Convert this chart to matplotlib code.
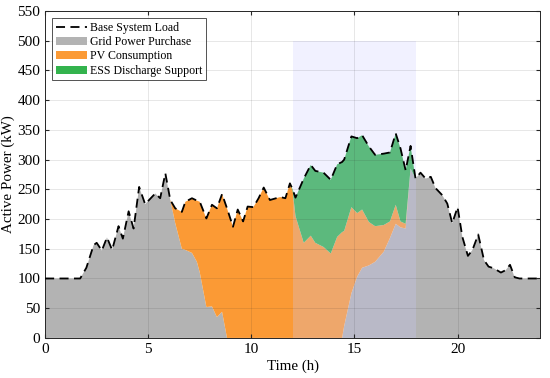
import numpy as np
import matplotlib
matplotlib.use("Agg")
import matplotlib.pyplot as plt

plt.rcParams['font.family'] = ['Liberation Serif', 'DejaVu Serif']

# time points (h)
hours = [0, 1.7, 2.0, 2.35, 2.5, 2.75, 3.0, 3.25, 3.56, 3.77, 4.05, 4.29, 4.56, 4.85,
         5.34, 5.58, 5.83, 6.07, 6.31, 6.63, 6.8, 7.12, 7.36, 7.5, 7.82, 8.09, 8.33,
         8.58, 8.82, 9.11, 9.34, 9.6, 9.82, 10.1, 10.35, 10.6, 10.9, 11.4, 11.65, 11.87,
         12.0, 12.14, 12.54, 12.88, 13.1, 13.5, 13.85, 14.16, 14.4, 14.5, 14.85, 15.13,
         15.37, 15.7, 16.0, 16.42, 16.72, 17.0, 17.23, 17.48, 17.72, 17.96, 18.2, 18.45,
         18.7, 18.93, 19.26, 19.5, 19.74, 20.0, 20.23, 20.5, 20.72, 21.0, 21.28, 21.5,
         21.76, 22.1, 22.33, 22.54, 22.77, 23.0, 24.0]

load_kw = [100, 100, 118, 156, 160, 147, 169, 148, 188, 167, 213, 184, 254, 225,
           243, 235, 277, 232, 218, 212, 229, 235, 231, 229, 201, 224, 218,
           242, 218, 187, 216, 196, 221, 220, 235, 253, 232, 237, 235, 260,
           250, 236, 268, 291, 281, 278, 266, 292, 296, 300, 339, 336,
           341, 322, 308, 310, 312, 344, 319, 282, 323, 268, 278, 268,
           271, 252, 240, 226, 193, 220, 170, 138, 148, 174, 131, 120,
           117, 110, 114, 123, 102, 100, 100]

grid_kw = [100, 100, 118, 156, 160, 147, 169, 148, 188, 167, 213, 184, 254, 225,
           243, 235, 277, 232, 193, 150, 148, 143, 128, 110, 52, 53, 35,
           44, 0, 0, 0, 0, 0, 0, 0, 0, 0, 0, 0, 0,
           0, 0, 0, 0, 0, 0, 0, 0, 0, 20, 75, 103,
           118, 122, 128, 145, 168, 192, 186, 184, 285, 268, 278, 268,
           271, 252, 240, 226, 193, 220, 170, 138, 148, 174, 131, 120,
           117, 110, 114, 123, 102, 100, 100]

pv_kw = [0, 0, 0, 0, 0, 0, 0, 0, 0, 0, 0, 0, 0, 0,
         0, 0, 0, 0, 25, 62, 81, 92, 103, 119, 149, 171, 183,
         198, 218, 187, 216, 196, 221, 220, 235, 253, 232, 237, 235, 260,
         248, 205, 160, 172, 160, 153, 142, 170, 178, 160, 145, 107,
         98, 73, 60, 45, 28, 32, 10, 8, 0, 0, 0, 0,
         0, 0, 0, 0, 0, 0, 0, 0, 0, 0, 0, 0,
         0, 0, 0, 0, 0, 0, 0]

hours = np.array(hours)
load_kw = np.array(load_kw)
grid_kw = np.array(grid_kw)
pv_kw = np.array(pv_kw)
ess_kw = np.clip(load_kw - grid_kw - pv_kw, 0, None)

fig = plt.figure(figsize=(5.5, 3.78), dpi=100)
ax = fig.add_axes([0.082, 0.106, 0.9, 0.865])

ax.stackplot(hours, grid_kw, pv_kw, ess_kw,
             colors=['#b3b3b3', '#fb9a35', '#33b34d'],
             labels=['Grid Power Purchase', 'PV Consumption', 'ESS Discharge Support'],
             zorder=1)
ax.plot(hours, load_kw, color='black', ls=(0, (5, 3)), lw=1.3, zorder=3,
        label='Base System Load')

# discharge window highlight
ax.fill_between([12, 18], 0, 500, color='#ccccff', alpha=0.27, lw=0, zorder=2)

ax.set_xlim(0, 24)
ax.set_ylim(0, 550)
ax.set_xticks([0, 5, 10, 15, 20])
ax.set_yticks(np.arange(0, 551, 50))
ax.grid(True, color='#262626', alpha=0.13, lw=0.6, zorder=4)
ax.set_axisbelow(False)
ax.tick_params(direction='in', top=True, right=True, labelsize=11, length=3,
               color='#262626')
for s in ax.spines.values():
    s.set_color('#262626')
    s.set_linewidth(0.7)

ax.set_xlabel('Time (h)', fontsize=10.8, labelpad=3)
ax.set_ylabel('Active Power (kW)', fontsize=10.8, labelpad=2)

h, l = ax.get_legend_handles_labels()
order = [3, 0, 1, 2]
leg = ax.legend([h[i] for i in order], [l[i] for i in order], loc='upper left',
                fontsize=8.6, frameon=True, fancybox=False, borderpad=0.3,
                labelspacing=0.2, handlelength=2.6, handletextpad=0.3,
                borderaxespad=0.6)
leg.get_frame().set_edgecolor('#262626')
leg.get_frame().set_linewidth(0.7)
leg.set_zorder(10)

fig.savefig('out.png', dpi=100)
